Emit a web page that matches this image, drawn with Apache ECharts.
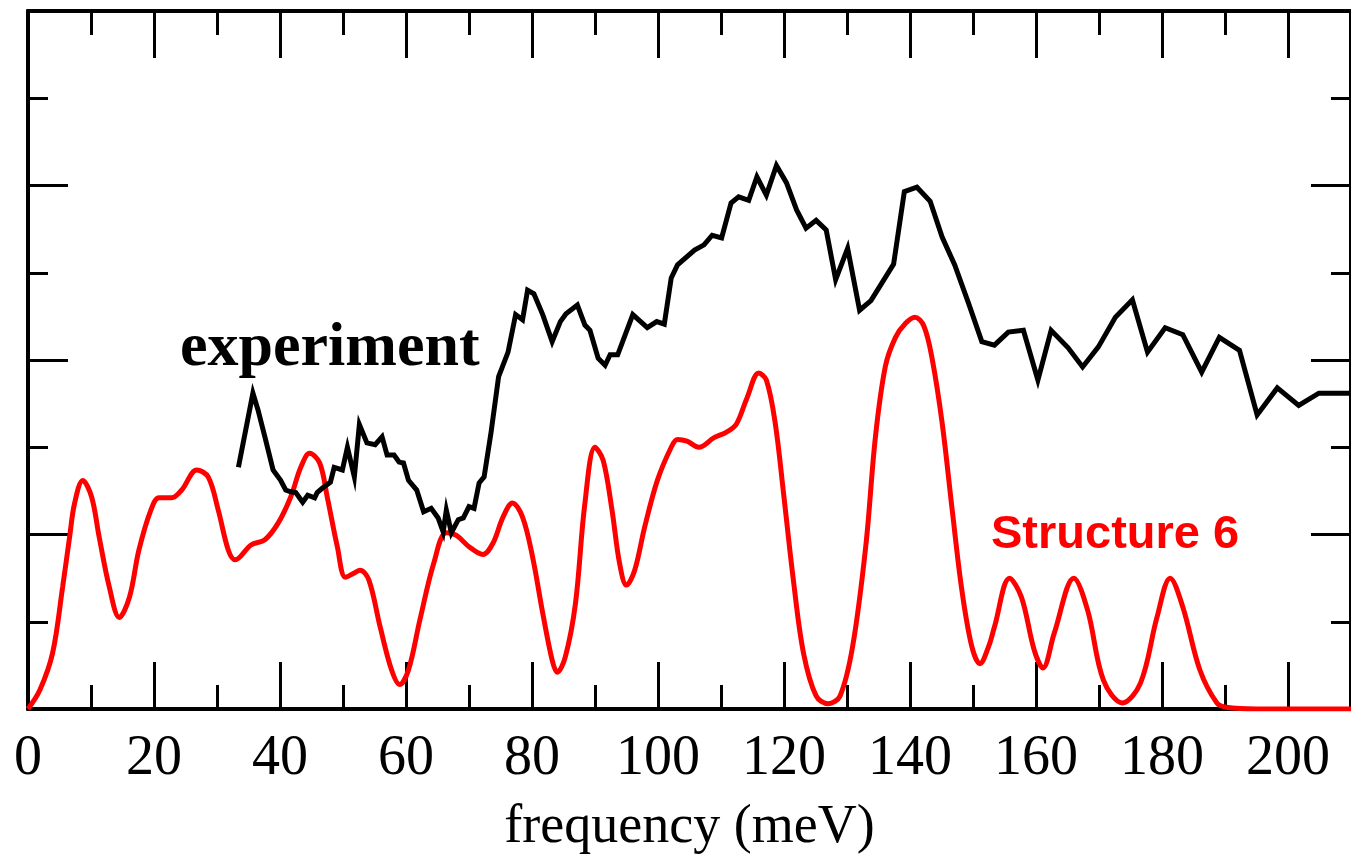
<!DOCTYPE html>
<html><head><meta charset="utf-8">
<script src="https://cdn.jsdelivr.net/npm/echarts@6/dist/echarts.min.js"></script>
<style>html,body{margin:0;padding:0;background:#fff}#c{width:1351px;height:863px}</style>
</head><body><div id="c"></div>
<script>
// frequency (meV) and intensity
const expFreq = [33.4,35.7,36.5,37.6,38.9,40.1,40.9,41.7,42.5,43.6,44.4,45.5,45.9,46.7,48.0,48.6,49.9,50.7,51.8,52.6,53.8,55.1,56.2,57.0,58.1,58.9,59.6,60.4,61.7,62.8,64.0,65.1,65.9,66.4,67.2,68.3,69.1,70.0,70.8,71.6,72.4,73.5,74.7,76.2,77.4,78.5,79.3,80.3,81.7,83.2,84.5,85.4,87.2,88.4,89.2,90.5,91.6,92.4,93.6,96.0,98.3,99.8,101.0,102.1,103.1,105.8,107.3,108.6,110.1,111.6,112.8,114.4,115.7,117.2,118.8,120.4,122.0,123.5,125.1,126.7,128.2,130.1,132.0,133.8,135.6,137.4,139.1,141.1,143.2,145.1,147.1,149.3,151.4,153.4,155.6,158.0,160.3,162.4,165.1,167.4,169.9,172.6,175.3,177.7,180.5,183.3,186.3,189.1,192.3,195.1,198.3,201.7,204.9,210];
const expInt = [2.77,3.62,3.43,3.12,2.74,2.62,2.51,2.49,2.48,2.37,2.45,2.42,2.48,2.53,2.60,2.77,2.74,3.00,2.66,3.26,3.05,3.03,3.12,2.91,2.91,2.83,2.82,2.62,2.51,2.26,2.30,2.19,2.03,2.28,2.02,2.17,2.19,2.32,2.30,2.59,2.66,3.17,3.81,4.09,4.52,4.46,4.80,4.76,4.52,4.21,4.44,4.53,4.63,4.40,4.34,4.02,3.94,4.06,4.06,4.52,4.37,4.44,4.41,4.94,5.09,5.26,5.32,5.43,5.40,5.80,5.87,5.83,6.10,5.89,6.23,6.03,5.72,5.51,5.60,5.49,4.92,5.28,4.57,4.68,4.89,5.10,5.93,5.98,5.82,5.41,5.09,4.65,4.21,4.17,4.32,4.34,3.77,4.34,4.14,3.92,4.15,4.49,4.69,4.09,4.37,4.29,3.86,4.26,4.11,3.37,3.68,3.48,3.62,3.62];
const s6Freq = [0,1.9,3.9,5.5,6.6,7.4,8.7,10.1,11.3,12.9,14.5,16.1,17.6,19.5,20.8,22.8,24.4,26.8,28.6,30.2,31.8,32.9,35.4,37.6,39.7,41.7,43.3,44.7,46.3,47.5,49.1,50.4,51.8,52.7,54.1,55.9,57.7,59.0,60.4,62.2,64.4,66.4,68.0,70.0,72.2,73.8,75.4,76.9,78.5,80.1,81.7,83.2,84.0,85.3,86.9,88.4,90.0,91.3,92.7,93.9,95.0,96.3,97.9,99.9,102.1,103.1,104.6,106.5,108.9,110.8,112.4,114.1,116.0,117.2,118.6,119.9,121.5,123.1,125.1,127.0,128.9,130.9,133.0,134.5,136.1,137.7,139.3,140.8,142.2,143.5,145.1,146.7,148.2,149.8,151.1,152.5,153.4,155.8,157.7,159.7,161.1,162.9,166.0,168.2,170.7,173.7,176.6,179.2,181.3,183.3,186.0,188.7,190.2,195,210];
const s6Int = [0,0.22,0.64,1.40,1.97,2.36,2.62,2.43,1.97,1.40,1.05,1.28,1.82,2.28,2.42,2.42,2.51,2.74,2.66,2.28,1.82,1.71,1.88,1.94,2.13,2.43,2.77,2.93,2.82,2.43,1.86,1.51,1.56,1.59,1.48,0.94,0.45,0.28,0.45,1.02,1.67,2.02,1.99,1.86,1.77,1.90,2.20,2.36,2.20,1.74,1.10,0.56,0.42,0.60,1.21,2.36,3.00,2.85,2.28,1.67,1.42,1.59,2.09,2.62,3.00,3.09,3.07,3.00,3.11,3.17,3.26,3.56,3.85,3.77,3.28,2.49,1.47,0.64,0.15,0.06,0.15,0.72,1.88,3.11,3.93,4.26,4.42,4.49,4.39,4.02,3.28,2.28,1.38,0.72,0.52,0.72,0.94,1.50,1.28,0.68,0.47,0.87,1.50,1.13,0.33,0.07,0.30,1.05,1.50,1.17,0.45,0.07,0.02,0,0];
const xTickLabels = ['0','20','40','60','80','100','120','140','160','180','200'];
const xName = 'frequency (meV)';
const expLabel = 'experiment';
const s6Label = 'Structure 6';

const chart = echarts.init(document.getElementById('c'), null, {renderer: 'canvas'});
const black = '#000';
function xAx(pos, interval, len, withLabel) {
  return {
    type: 'value', position: pos, min: 0, max: 210, interval: interval,
    axisLine: {show: true, onZero: false, lineStyle: {color: black, width: 4}},
    axisTick: {show: true, inside: true, length: len, lineStyle: {color: black, width: 3}},
    axisLabel: withLabel ? {
      show: true, margin: 22, color: black, fontFamily: 'Liberation Serif', fontSize: 56,
      showMaxLabel: false,
      formatter: v => xTickLabels.includes(String(v)) ? String(v) : ''
    } : {show: false},
    splitLine: {show: false},
    name: withLabel ? xName : '', nameLocation: 'middle', nameGap: 92,
    nameTextStyle: {color: black, fontFamily: 'Liberation Serif', fontSize: 54}
  };
}
function yAx(pos) {
  return {
    type: 'value', position: pos, min: 0, max: 8, interval: 2,
    axisLine: {show: true, onZero: false, lineStyle: {color: black, width: 4}},
    axisTick: {show: true, inside: true, length: 40, lineStyle: {color: black, width: 3}},
    minorTick: {show: true, splitNumber: 2, length: 20, lineStyle: {color: black, width: 3}},
    axisLabel: {show: false}, splitLine: {show: false}, minorSplitLine: {show: false}
  };
}
const zip = (a, b) => a.map((v, i) => [v, b[i]]);
chart.setOption({
  animation: false,
  backgroundColor: '#fff',
  grid: {left: 28, top: 11, width: 1336, height: 698, containLabel: false},
  xAxis: [xAx('bottom', 20, 47, true), xAx('bottom', 10, 24, false), xAx('top', 20, 47, false), xAx('top', 10, 24, false)],
  yAxis: [yAx('left'), yAx('right')],
  series: [
    {type: 'line', name: s6Label, xAxisIndex: 0, yAxisIndex: 0, data: zip(s6Freq, s6Int),
     smooth: 0.35, showSymbol: false, lineStyle: {color: '#ff0000', width: 5}},
    {type: 'line', name: expLabel, xAxisIndex: 0, yAxisIndex: 0, data: zip(expFreq, expInt),
     smooth: false, showSymbol: false, lineStyle: {color: black, width: 5, join: 'miter'}}
  ],
  graphic: [
    {type: 'text', left: 180, top: 318, z: 100,
     style: {text: expLabel, fill: black, font: 'bold 62px "Liberation Serif"'}},
    {type: 'text', left: 991, top: 512, z: 100,
     style: {text: s6Label, fill: '#ff0000', font: 'bold 47px "Liberation Sans"'}}
  ]
});
</script></body></html>
